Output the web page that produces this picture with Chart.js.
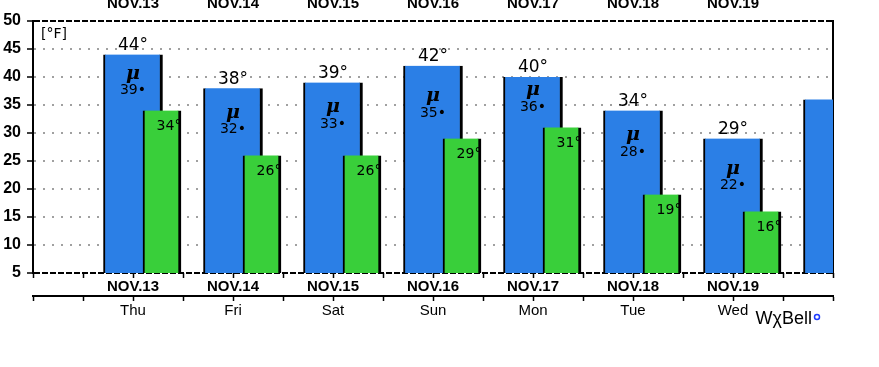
<!DOCTYPE html>
<html>
<head>
<meta charset="utf-8">
<script src="https://cdn.jsdelivr.net/npm/chart.js@4.4.1/dist/chart.umd.min.js"></script>
<style>
  html, body { margin: 0; padding: 0; background: #fff; }
  #wrap { width: 879px; height: 367px; }
</style>
</head>
<body>
<div id="wrap"><canvas id="tempChart"></canvas></div>
<script>
const dates = ['NOV.13', 'NOV.14', 'NOV.15', 'NOV.16', 'NOV.17', 'NOV.18', 'NOV.19'];
const weekdays = ['Thu', 'Fri', 'Sat', 'Sun', 'Mon', 'Tue', 'Wed'];
// highs: the last one is NOV.20, only its left half is on the chart
const highs = [44, 38, 39, 42, 40, 34, 29, 36];
const means = [39, 32, 33, 35, 36, 28, 22];
const lows = [34, 26, 26, 29, 31, 19, 16];
const yMin = 5, yMax = 50, yStep = 5;

const SANS = '"Liberation Sans", Arial, sans-serif';
const DEJAVU = '"DejaVu Sans", sans-serif';

// x value 0 is NOV.12 (left edge), 1..7 the days, 8 = NOV.20 (right edge)
const dayLabel = (list) => (value) => {
  if (Number.isInteger(value) && value >= 1 && value <= list.length) {
    return list[value - 1];
  }
  return '';
};

const barLabels = {
  id: 'barLabels',
  afterDraw(chart) {
    const { ctx, scales, chartArea } = chart;
    const x = scales.x, xg = scales.xg, y = scales.y;
    ctx.save();
    ctx.fillStyle = '#000';
    ctx.textAlign = 'center';
    for (let i = 0; i < dates.length; i++) {
      const cx = x.getPixelForValue(i + 1);
      ctx.textBaseline = 'middle';
      ctx.font = '17px ' + DEJAVU;
      ctx.fillText(highs[i] + '°', cx, y.getPixelForValue(highs[i]) - 9);

      const my = y.getPixelForValue(means[i]);
      ctx.textBaseline = 'alphabetic';
      ctx.font = 'italic bold 19px "DejaVu Serif", serif';
      ctx.fillText('μ', cx, my - 4);
      ctx.textBaseline = 'middle';
      ctx.font = '14px ' + DEJAVU;
      ctx.fillText(means[i] + '•', cx, my + 8);

      const gx = xg.getPixelForValue(i + 1);
      ctx.fillText(lows[i] + '°', gx + 7, y.getPixelForValue(lows[i]) + 16);
    }
    ctx.textAlign = 'left';
    ctx.font = '14px ' + DEJAVU;
    ctx.fillText('[°F]', chartArea.left + 8, chartArea.top + 13);

    ctx.textAlign = 'right';
    ctx.font = '18px ' + SANS;
    ctx.fillText('WχBell', chartArea.right - 21, 319);
    ctx.beginPath();
    ctx.arc(chartArea.right - 16, 317, 2.5, 0, Math.PI * 2);
    ctx.strokeStyle = '#1e3cff';
    ctx.lineWidth = 1.5;
    ctx.stroke();
    ctx.restore();
  }
};

const edgeLine = (v) => v === yMin || v === yMax;

const dayAxis = (extra) => Object.assign({
  type: 'linear',
  min: 0,
  max: 8,
  offset: false,
}, extra);

const ctx = document.getElementById('tempChart').getContext('2d');
const tempChart = new Chart(ctx, {
  type: 'bar',
  data: {
    datasets: [
      {
        label: 'Low',
        data: lows.map((v, i) => ({ x: i + 1, y: v })),
        xAxisID: 'xg',
        backgroundColor: '#39cf3a',
        borderColor: '#000',
        borderWidth: { left: 2, right: 3, top: 0, bottom: 0 },
        barThickness: 38,
        grouped: false,
        order: 0,
      },
      {
        label: 'High',
        data: highs.map((v, i) => ({ x: i + 1, y: v })),
        xAxisID: 'x',
        backgroundColor: '#2b7fe6',
        borderColor: '#000',
        borderWidth: { left: 2, right: 3, top: 0, bottom: 0 },
        barThickness: 59,
        grouped: false,
        order: 1,
      },
    ],
  },
  options: {
    responsive: true,
    maintainAspectRatio: false,
    animation: false,
    layout: { padding: { left: 0, top: 0, right: 46, bottom: 41 } },
    plugins: { legend: { display: false }, tooltip: { enabled: false } },
    scales: {
      y: {
        min: yMin,
        max: yMax,
        z: 1,
        afterFit: (s) => { s.width = 33; },
        ticks: {
          stepSize: yStep,
          color: '#000',
          padding: 6,
          font: { family: SANS, size: 16, weight: 'bold' },
        },
        grid: {
          color: (c) => edgeLine(c.tick.value) ? '#000' : '#a0a0a0',
          lineWidth: 2,
          tickLength: 6,
          tickColor: '#000',
          tickWidth: 1.5,
        },
        border: {
          display: true,
          color: '#000',
          width: 2,
          dash: (c) => edgeLine(c.tick.value) ? [6, 2] : [2, 7],
        },
      },
      y2: {
        type: 'linear',
        position: 'right',
        min: yMin,
        max: yMax,
        afterFit: (s) => { s.width = 0; },
        ticks: { display: false },
        grid: { drawOnChartArea: false, drawTicks: false },
        border: { display: true, color: '#000', width: 2 },
      },
      x: dayAxis({
        position: 'bottom',
        weight: 1,
        afterFit: (s) => { s.height = 23; s.paddingLeft = 0; s.paddingRight = 0; },
        ticks: {
          stepSize: 0.5,
          autoSkip: false,
          maxRotation: 0,
          maxTicksLimit: 30,
          padding: 0,
          color: '#000',
          font: { family: SANS, size: 15, weight: 'bold' },
          callback: dayLabel(dates),
        },
        grid: { offset: false, drawOnChartArea: false, tickLength: 5, tickColor: '#000', tickWidth: 1.5 },
        border: { display: false },
      }),
      xd: dayAxis({
        position: 'bottom',
        weight: 2,
        afterFit: (s) => { s.height = 30; s.paddingLeft = 0; s.paddingRight = 0; },
        ticks: {
          stepSize: 0.5,
          autoSkip: false,
          maxRotation: 0,
          maxTicksLimit: 30,
          padding: 1,
          color: '#000',
          font: { family: SANS, size: 15 },
          callback: dayLabel(weekdays),
        },
        grid: { offset: false, drawOnChartArea: false, tickLength: 5, tickColor: '#000', tickWidth: 1.5 },
        border: { display: true, color: '#000', width: 2 },
      }),
      xt: dayAxis({
        position: 'top',
        afterFit: (s) => { s.height = 21; s.paddingLeft = 0; s.paddingRight = 0; },
        ticks: {
          stepSize: 0.5,
          autoSkip: false,
          maxRotation: 0,
          maxTicksLimit: 30,
          padding: 8,
          color: '#000',
          font: { family: SANS, size: 15, weight: 'bold' },
          callback: dayLabel(dates),
        },
        grid: { offset: false, display: false, drawTicks: false },
        border: { display: false },
      }),
      // lows sit 0.29 of a day to the right of the highs
      xg: {
        type: 'linear',
        display: false,
        offset: false,
        grid: { offset: false },
        min: -0.29,
        max: 7.71,
      },
    },
  },
  plugins: [barLabels],
});
</script>
</body>
</html>
